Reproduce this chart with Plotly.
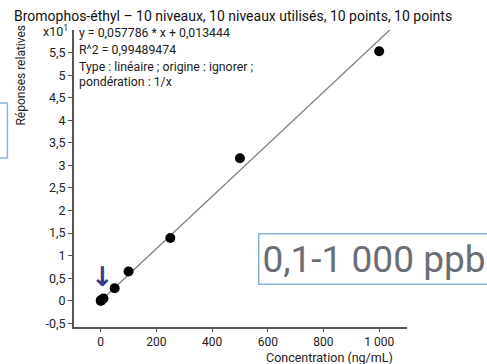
import plotly.graph_objects as go

# Data (responses in units of x10^1)
conc = [0.1, 0.5, 1, 5, 10, 50, 100, 250, 500, 1000]
resp = [0.0, 0.005, 0.01, 0.03, 0.05, 0.28, 0.65, 1.39, 3.16, 5.53]
slope = 0.0057786  # per display unit (0.057786 / 10)
intercept = 0.0013444
line_x = [0.1, 1100]
line_y = [slope * v + intercept for v in line_x]

x_ticks = [0, 200, 400, 600, 800, 1000]
x_ticktext = ["0", "200", "400", "600", "800", "1 000"]
y_ticks = [-0.5, 0, 0.5, 1, 1.5, 2, 2.5, 3, 3.5, 4, 4.5, 5, 5.5]
y_ticktext = ["-0,5", "0", "0,5", "1", "1,5", "2", "2,5", "3", "3,5", "4", "4,5", "5", "5,5"]

FONT = "Roboto"

fig = go.Figure()
fig.add_trace(go.Scatter(x=line_x, y=line_y, mode="lines",
                         line=dict(color="#808080", width=1.3), showlegend=False,
                         hoverinfo="skip"))
fig.add_trace(go.Scatter(x=conc, y=resp, mode="markers",
                         marker=dict(color="black", size=10), showlegend=False,
                         cliponaxis=False))

fig.update_layout(
    width=487, height=364,
    margin=dict(l=74, r=80, t=30, b=37),
    paper_bgcolor="white", plot_bgcolor="white",
    font=dict(family=FONT, color="#222", size=12),
    xaxis=dict(range=[-96, 1100], tickvals=x_ticks, ticktext=x_ticktext,
               showgrid=False, zeroline=False, showline=True, linecolor="#555",
               linewidth=2, ticks="outside", ticklen=3, tickcolor="#555",
               tickfont=dict(size=12, family=FONT, color="#222")),
    yaxis=dict(range=[-0.58, 6.0], tickvals=y_ticks, ticktext=y_ticktext,
               showgrid=False, zeroline=False, showline=True, linecolor="#555",
               linewidth=2, ticks="outside", ticklen=4, tickcolor="#555",
               tickfont=dict(size=12.5, family=FONT, color="#222")),
)

annotations = [
    dict(text="Bromophos-éthyl – 10 niveaux, 10 niveaux utilisés, 10 points, 10 points",
         xref="paper", yref="paper", x=-0.186, y=1.046, xanchor="left", yanchor="middle",
         showarrow=False, font=dict(size=14, family=FONT, color="#111")),
    dict(text="x10<sup>1</sup>", xref="paper", yref="paper", x=-0.012, y=0.995,
         xanchor="right", yanchor="middle", showarrow=False,
         font=dict(size=12.5, family=FONT, color="#222")),
    dict(text="Réponses relatives", xref="paper", yref="paper", x=-0.158, y=0.848,
         xanchor="center", yanchor="middle", textangle=-90, showarrow=False,
         font=dict(size=12, family=FONT, color="#222")),
    dict(text="Concentration (ng/mL)", xref="paper", yref="paper", x=0.965, y=-0.104,
         xanchor="right", yanchor="middle", showarrow=False,
         font=dict(size=12.5, family=FONT, color="#222")),
    dict(text="0,1-1 000 ppb", xref="paper", yref="paper", x=0.553, y=0.229,
         xanchor="left", yanchor="middle", showarrow=False,
         font=dict(size=37, family=FONT, color="#6a6d74"),
         bordercolor="#8ab4dc", borderwidth=1.5, borderpad=3, bgcolor="white"),
    dict(text="<b>↓</b>", x=5, y=0.16, xref="x", yref="y", yanchor="bottom",
         showarrow=False, font=dict(size=27, family="DejaVu Sans", color="#3a3a8c")),
]
eq_lines = ["y = 0,057786 * x + 0,013444", "R^2 = 0,99489474",
            "Type : linéaire ; origine : ignorer ;", "pondération : 1/x"]
eq_y = [0.990, 0.931, 0.876, 0.826]
for t, yy in zip(eq_lines, eq_y):
    annotations.append(dict(text=t, xref="paper", yref="paper", x=0.008, y=yy,
                            xanchor="left", yanchor="middle", showarrow=False,
                            font=dict(size=12.3, family=FONT, color="#222")))
fig.update_layout(annotations=annotations)

fig.add_shape(type="rect", xref="paper", yref="paper", x0=-0.4, x1=-0.2,
              y0=0.569, y1=0.754, line=dict(color="#8ab4dc", width=1.5))

fig.write_html("out.html")
